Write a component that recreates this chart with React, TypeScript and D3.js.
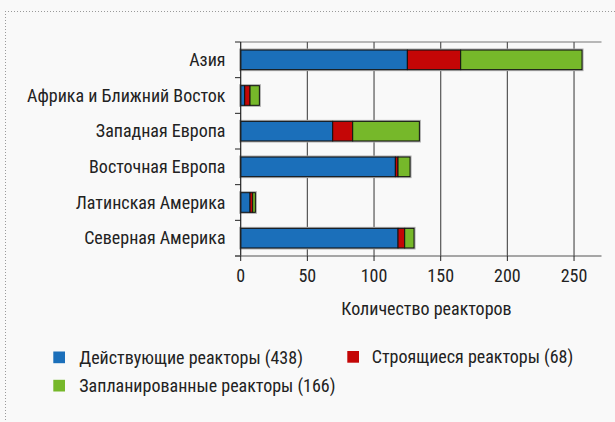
import React from "react";
import * as d3 from "d3";

const categories = [
  "Азия",
  "Африка и Ближний Восток",
  "Западная Европа",
  "Восточная Европа",
  "Латинская Америка",
  "Северная Америка",
];
const operating = [125, 3, 69, 116, 7, 118];
const construction = [40, 4, 15, 2, 2, 5];
const planned = [91, 7, 50, 9, 2, 7];
const xTicks = [0, 50, 100, 150, 200, 250];
const seriesNames = [
  "Действующие реакторы (438)",
  "Строящиеся реакторы (68)",
  "Запланированные реакторы (166)",
];
const xTitle = "Количество реакторов";

const colors = ["#1b6fba", "#c40606", "#76b82a"];
const FONT = "'Roboto Condensed', 'DejaVu Sans Condensed', sans-serif";

export default function App() {
  const W = 615, H = 422;
  const left = 240.7, right = 601.5, top = 42, bottom = 256;
  const x = d3.scaleLinear().domain([0, 270.6]).range([left, right]);
  const y = d3.scaleBand().domain(categories).range([top, bottom]).paddingInner(0.45).paddingOuter(0.225);

  const rows = categories.map((c, i) => ({ c, vals: [operating[i], construction[i], planned[i]] }));
  const stack = d3.stack<any>().keys(["0", "1", "2"]).value((d: any, k: string) => d.vals[+k]);
  const series = stack(rows as any);

  const bandEdges = d3.range(categories.length + 1).map((i) => top + (i * (bottom - top)) / categories.length);

  const totals = categories.map((_, i) => operating[i] + construction[i] + planned[i]);

  return (
    <svg width={W} height={H} style={{ position: "absolute", left: 0, top: 0, background: "#f9f9f9" }} fontFamily={FONT}>
      <rect x={0} y={0} width={W} height={H} fill="#f9f9f9" />
      {/* dotted frame */}
      <line x1={5} x2={W} y1={11.5} y2={11.5} stroke="#9a9a9a" strokeWidth={1} strokeDasharray="1,2" />
      <line x1={5.5} x2={5.5} y1={11} y2={H} stroke="#9a9a9a" strokeWidth={1} strokeDasharray="1,2" />

      {/* top border */}
      <line x1={left} x2={right} y1={top} y2={top} stroke="#777" strokeWidth={1.2} />
      {/* grid */}
      {xTicks.filter((t) => t > 0).map((t) => (
        <line key={t} x1={x(t)} x2={x(t)} y1={top} y2={bottom} stroke="#555" strokeWidth={1.2} />
      ))}

      {/* bar halos */}
      {categories.map((c, i) => (
        <rect
          key={"h" + c}
          x={x(0)}
          y={y(c)!}
          width={x(totals[i]) - x(0)}
          height={y.bandwidth()}
          fill="none"
          stroke="#aaa"
          strokeWidth={3}
        />
      ))}

      {/* bars */}
      {series.map((s: any, si: number) =>
        s.map((d: any, i: number) => (
          <rect
            key={si + "-" + i}
            x={x(d[0])}
            y={y(categories[i])!}
            width={x(d[1]) - x(d[0])}
            height={y.bandwidth()}
            fill={colors[si]}
            stroke="#111"
            strokeWidth={1}
          />
        ))
      )}

      {/* y axis */}
      <line x1={left} x2={left} y1={top} y2={bottom} stroke="#222" strokeWidth={1.2} />
      {bandEdges.map((e, i) => (
        <line key={i} x1={235} x2={left} y1={e} y2={e} stroke="#222" strokeWidth={1} />
      ))}
      {categories.map((c) => (
        <text key={c} x={225.5} y={y(c)! + y.bandwidth() / 2} dy="0.35em" textAnchor="end" fontSize={18} fill="#222">
          {c}
        </text>
      ))}

      {/* x axis */}
      <line x1={235} x2={right} y1={bottom} y2={bottom} stroke="#555" strokeWidth={1.2} />
      {xTicks.map((t) => (
        <g key={t}>
          <line x1={x(t)} x2={x(t)} y1={bottom} y2={bottom + 5} stroke="#222" strokeWidth={1} />
          <text x={x(t)} y={276} dy="0.35em" textAnchor="middle" fontSize={18} fill="#222">
            {t}
          </text>
        </g>
      ))}
      <text x={426.5} y={309} dy="0.35em" textAnchor="middle" fontSize={18} fill="#222">
        {xTitle}
      </text>

      {/* legend */}
      {[
        { i: 0, sx: 53.3, sy: 351.5, tx: 79.3 },
        { i: 1, sx: 347.3, sy: 351.0, tx: 371.7 },
        { i: 2, sx: 53.3, sy: 379.8, tx: 79.3 },
      ].map(({ i, sx, sy, tx }) => (
        <g key={i}>
          <rect x={sx} y={sy} width={11.7} height={11.7} fill={colors[i]} />
          <text x={tx} y={sy + 5.9} dy="0.35em" fontSize={18} fill="#222">
            {seriesNames[i]}
          </text>
        </g>
      ))}
    </svg>
  );
}
